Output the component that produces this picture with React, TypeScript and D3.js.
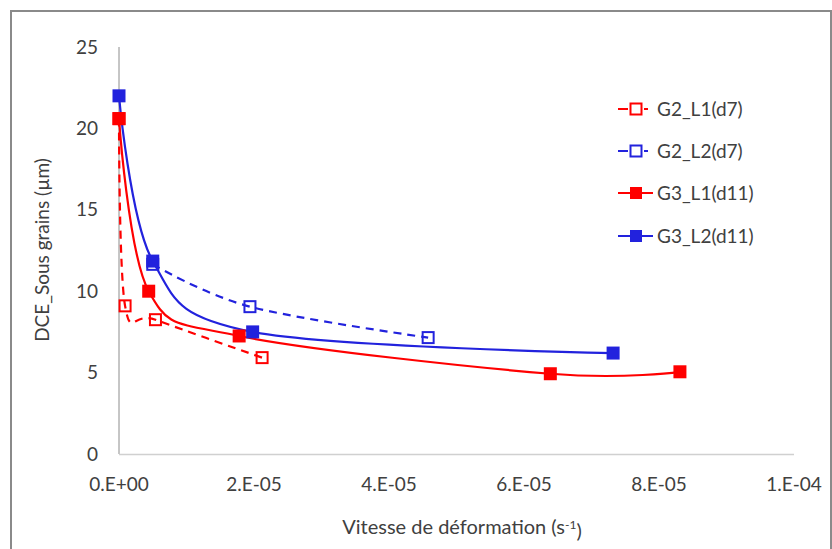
import React from "react";
import * as d3 from "d3";

const W = 832;
const H = 549;

// Data (strain rate s^-1, DCE µm)
const g2l1X = [0, 0.9e-6, 5.4e-6, 2.12e-5];
const g2l1Y = [20.6, 9.1, 8.25, 5.92];
const g2l2X = [5.0e-6, 1.94e-5, 4.58e-5];
const g2l2Y = [11.65, 9.05, 7.15];
const g3l1X = [0, 4.4e-6, 1.78e-5, 6.39e-5, 8.31e-5];
const g3l1Y = [20.6, 10.0, 7.25, 4.93, 5.05];
const g3l2X = [0, 5.0e-6, 1.98e-5, 7.32e-5];
const g3l2Y = [22.0, 11.85, 7.5, 6.2];

const xTicks = [0, 2e-5, 4e-5, 6e-5, 8e-5, 1e-4];
const xTickLabels = ["0.E+00", "2.E-05", "4.E-05", "6.E-05", "8.E-05", "1.E-04"];
const yTicks = [0, 5, 10, 15, 20, 25];

const seriesNames = ["G2_L1(d7)", "G2_L2(d7)", "G3_L1(d11)", "G3_L2(d11)"];
const seriesColors = ["#ff0000", "#2222dd", "#ff0000", "#2222dd"];
const seriesDashed = [true, true, false, false];
const seriesOpen = [true, true, false, false];
const seriesXs = [g2l1X, g2l2X, g3l1X, g3l2X];
const seriesYs = [g2l1Y, g2l2Y, g3l1Y, g3l2Y];

const FONT = "Lato, 'Open Sans', sans-serif";
const TEXT = "#404040";

export default function App() {
  const x = d3.scaleLinear().domain([0, 1e-4]).range([119, 794]);
  const y = d3.scaleLinear().domain([0, 25]).range([454, 47]);
  const line = d3
    .line<[number, number]>()
    .x((d) => x(d[0]))
    .y((d) => y(d[1]))
    .curve(d3.curveCardinal.tension(0));

  const legendY = [109, 151, 193, 236];

  return (
    <svg
      width={W}
      height={H}
      style={{ position: "absolute", left: 0, top: 0, background: "#fff" }}
      fontFamily={FONT}
    >
      <rect x={0} y={0} width={W} height={H} fill="#fff" />
      {/* outer frame */}
      <rect x={11} y={11} width={W - 12} height={H + 20} fill="none" stroke="#8a8a8a" strokeWidth={2} />

      {/* axes */}
      <line x1={119} x2={119} y1={y(25)} y2={y(0)} stroke="#8c8c8c" strokeWidth={1} />
      <line x1={119} x2={x(1e-4)} y1={y(0) + 0.5} y2={y(0) + 0.5} stroke="#d0d0d0" strokeWidth={1.5} />

      {yTicks.map((t) => (
        <text key={t} x={98} y={y(t)} dy="0.35em" textAnchor="end" fontSize={19} fill={TEXT}>
          {t}
        </text>
      ))}
      {xTicks.map((t, i) => (
        <text key={i} x={x(t)} y={484} dy="0.35em" textAnchor="middle" fontSize={19} fill={TEXT}>
          {xTickLabels[i]}
        </text>
      ))}

      <text
        transform={`translate(42, 250) rotate(-90)`}
        textAnchor="middle"
        dy="0.35em"
        fontSize={19}
        fill={TEXT}
      >
        DCE_Sous grains (µm)
      </text>
      <text x={462} y={527} textAnchor="middle" dy="0.35em" fontSize={20} fill={TEXT}>
        Vitesse de déformation (s
        <tspan dy="-0.45em" fontSize={12}>-1</tspan>
        <tspan dy="0.45em">)</tspan>
      </text>

      {/* series lines */}
      {seriesNames.map((n, i) => {
        const pts = seriesXs[i].map((v, j) => [v, seriesYs[i][j]] as [number, number]);
        return (
          <path
            key={"l" + n}
            d={line(pts) || ""}
            fill="none"
            stroke={seriesColors[i]}
            strokeWidth={2.2}
            strokeDasharray={seriesDashed[i] ? "8,6" : undefined}
          />
        );
      })}
      {/* markers: filled series drawn first, open on top */}
      {[2, 3, 0, 1].map((i) =>
        seriesXs[i].map((v, j) =>
          seriesOpen[i] ? (
            <rect
              key={i + "-" + j}
              x={x(v) - 5.5}
              y={y(seriesYs[i][j]) - 5.5}
              width={11}
              height={11}
              fill="none"
              stroke={seriesColors[i]}
              strokeWidth={2}
            />
          ) : (
            <rect
              key={i + "-" + j}
              x={x(v) - 6.5}
              y={y(seriesYs[i][j]) - 6.5}
              width={13}
              height={13}
              fill={seriesColors[i]}
            />
          )
        )
      )}

      {/* legend */}
      {seriesNames.map((n, i) => (
        <g key={"lg" + n}>
          <line
            x1={618}
            x2={seriesDashed[i] ? 648 : 653}
            y1={legendY[i]}
            y2={legendY[i]}
            stroke={seriesColors[i]}
            strokeWidth={2.2}
            strokeDasharray={seriesDashed[i] ? "10,3" : undefined}
          />
          {seriesOpen[i] ? (
            <rect x={630.5} y={legendY[i] - 5.5} width={11} height={11} fill="#fff" stroke={seriesColors[i]} strokeWidth={2} />
          ) : (
            <rect x={630} y={legendY[i] - 6} width={12} height={12} fill={seriesColors[i]} />
          )}
          <text x={657} y={legendY[i]} dy="0.35em" fontSize={19} fill={TEXT}>
            {n}
          </text>
        </g>
      ))}
    </svg>
  );
}
